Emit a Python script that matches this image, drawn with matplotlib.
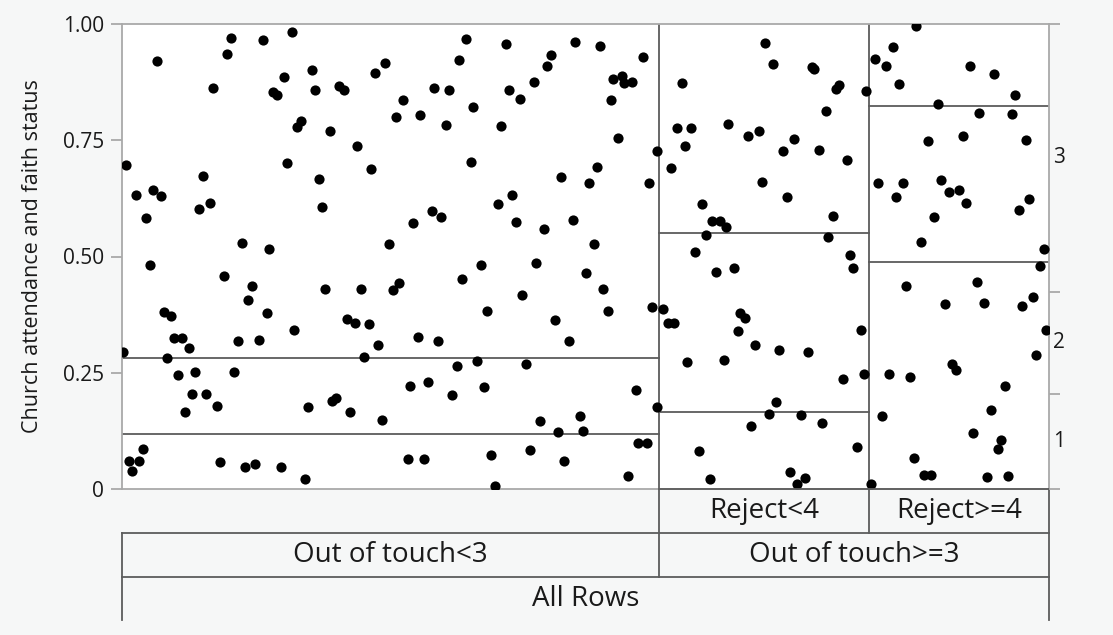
import matplotlib
matplotlib.use('Agg')
import matplotlib.pyplot as plt

plt.rcParams['font.family'] = ['Open Sans', 'DejaVu Sans']

# rows in partition "Out of touch<3": x position (share of rows), response value
x_lt3 = [0.038, 0.118, 0.113, 0.152, 0.183, 0.098, 0.175, 0.163, 0.167, 0.205,
         0.208, 0.234, 0.239, 0.273, 0.284, 0.303, 0.296, 0.322, 0.193, 0.189,
         0.224, 0.254, 0.004, 0.178, 0.269, 0.087, 0.213, 0.015, 0.033, 0.042,
         0.026, 0.083, 0.095, 0.216, 0.314, 0.129, 0.159, 0.288, 0.030, 0.110,
         0.140, 0.136, 0.045, 0.053, 0.156, 0.186, 0.219, 0.258, 0.292, 0.299,
         0.243, 0.251, 0.266, 0.319, 0.056, 0.065, 0.072, 0.125, 0.148, 0.276,
         0.001, 0.049, 0.261, 0.060, 0.079, 0.121, 0.311, 0.330, 0.076, 0.091,
         0.103, 0.068, 0.201, 0.227, 0.231, 0.246, 0.281, 0.023, 0.008, 0.018,
         0.011, 0.106, 0.133, 0.144, 0.171, 0.197, 0.308, 0.326,
         0.371, 0.414, 0.364, 0.489, 0.516, 0.463, 0.459, 0.562, 0.444, 0.530,
         0.539, 0.542, 0.550, 0.337, 0.353, 0.417, 0.429, 0.379, 0.527, 0.349,
         0.409, 0.535, 0.577, 0.376, 0.512, 0.474, 0.504, 0.569, 0.421, 0.406,
         0.334, 0.344, 0.425, 0.455, 0.486, 0.509,
         0.387, 0.447, 0.367, 0.501, 0.519, 0.432, 0.394, 0.524, 0.572, 0.467,
         0.341, 0.482, 0.361, 0.383, 0.436, 0.356, 0.391, 0.554, 0.577, 0.451,
         0.494, 0.470, 0.497, 0.557, 0.566, 0.398, 0.440, 0.477, 0.546, 0.402]
y_lt3 = [0.921, 0.970, 0.936, 0.966, 0.983, 0.863, 0.886, 0.854, 0.848, 0.901,
         0.858, 0.867, 0.858, 0.895, 0.916, 0.837, 0.800, 0.805, 0.792, 0.779,
         0.770, 0.738, 0.697, 0.702, 0.689, 0.674, 0.667, 0.633, 0.644, 0.631,
         0.582, 0.603, 0.614, 0.607, 0.573, 0.530, 0.517, 0.526, 0.481, 0.457,
         0.436, 0.406, 0.380, 0.371, 0.378, 0.341, 0.431, 0.431, 0.429, 0.444,
         0.365, 0.356, 0.354, 0.326, 0.324, 0.324, 0.303, 0.318, 0.320, 0.309,
         0.294, 0.281, 0.283, 0.245, 0.251, 0.251, 0.221, 0.230, 0.204, 0.204,
         0.178, 0.165, 0.176, 0.189, 0.195, 0.165, 0.148, 0.086, 0.060, 0.060,
         0.039, 0.058, 0.047, 0.054, 0.047, 0.021, 0.064, 0.064,
         0.968, 0.957, 0.923, 0.961, 0.953, 0.933, 0.910, 0.929, 0.876, 0.882,
         0.888, 0.873, 0.876, 0.863, 0.858, 0.858, 0.839, 0.822, 0.837, 0.783,
         0.781, 0.755, 0.727, 0.704, 0.693, 0.672, 0.659, 0.657, 0.633, 0.612,
         0.597, 0.584, 0.575, 0.560, 0.579, 0.526,
         0.481, 0.485, 0.451, 0.464, 0.431, 0.418, 0.382, 0.382, 0.391, 0.363,
         0.318, 0.318, 0.264, 0.275, 0.268, 0.202, 0.219, 0.212, 0.176, 0.146,
         0.157, 0.122, 0.124, 0.099, 0.099, 0.073, 0.084, 0.060, 0.028, 0.006]

# rows in "Out of touch>=3" & "Reject<4"
x_rej_lt4 = [0.604, 0.599, 0.614, 0.654, 0.607, 0.592, 0.626, 0.637, 0.645, 0.652,
             0.630, 0.618, 0.641, 0.660, 0.584, 0.589, 0.596, 0.610, 0.649, 0.622,
             0.634, 0.694, 0.702, 0.744, 0.747, 0.773, 0.770, 0.803, 0.759, 0.675,
             0.687, 0.725, 0.713, 0.752, 0.782, 0.690, 0.717, 0.767, 0.762, 0.785,
             0.789, 0.667, 0.672, 0.664, 0.797, 0.683, 0.709, 0.740, 0.778, 0.800,
             0.705, 0.698, 0.732, 0.679, 0.755, 0.793, 0.721, 0.737, 0.728]
y_rej_lt4 = [0.873, 0.777, 0.777, 0.785, 0.738, 0.691, 0.612, 0.577, 0.577, 0.564,
             0.547, 0.509, 0.466, 0.476, 0.388, 0.358, 0.356, 0.273, 0.277, 0.082,
             0.021, 0.959, 0.914, 0.908, 0.903, 0.869, 0.861, 0.856, 0.813, 0.760,
             0.770, 0.753, 0.727, 0.730, 0.708, 0.661, 0.629, 0.588, 0.541, 0.504,
             0.476, 0.378, 0.367, 0.339, 0.341, 0.309, 0.300, 0.294, 0.236, 0.247,
             0.187, 0.161, 0.159, 0.135, 0.142, 0.090, 0.036, 0.024, 0.011]

# rows in "Out of touch>=3" & "Reject>=4"
x_rej_ge4 = [0.857, 0.832, 0.812, 0.824, 0.915, 0.941, 0.838, 0.963, 0.880, 0.925,
             0.960, 0.869, 0.907, 0.975, 0.815, 0.842, 0.835, 0.884, 0.892, 0.903,
             0.910, 0.978, 0.968, 0.876, 0.862, 0.995, 0.990, 0.846, 0.922, 0.888,
             0.930, 0.971, 0.983, 0.997, 0.986, 0.895, 0.900, 0.827, 0.850, 0.952,
             0.937, 0.820, 0.918, 0.948, 0.945, 0.854, 0.865, 0.873, 0.933, 0.956,
             0.808]
y_rej_ge4 = [0.996, 0.951, 0.925, 0.910, 0.910, 0.893, 0.871, 0.848, 0.828, 0.809,
             0.807, 0.749, 0.760, 0.751, 0.657, 0.659, 0.629, 0.665, 0.639, 0.644,
             0.614, 0.624, 0.601, 0.586, 0.532, 0.517, 0.479, 0.436, 0.446, 0.397,
             0.399, 0.393, 0.412, 0.341, 0.288, 0.268, 0.255, 0.247, 0.240, 0.221,
             0.170, 0.157, 0.120, 0.105, 0.086, 0.067, 0.030, 0.030, 0.026, 0.028,
             0.011]

# partition split points (share of rows) and cumulative level proportions
split_touch = 0.579
split_reject = 0.806
cuts_lt3 = [0.118, 0.282]
cuts_rej_lt4 = [0.166, 0.550]
cuts_rej_ge4 = [0.489, 0.824]
cuts_all = [0.204, 0.424]
levels = ['1', '2', '3']

yticks = [0, 0.25, 0.5, 0.75, 1.0]
ytick_labels = ['0', '0.25', '0.50', '0.75', '1.00']

grey = '#a9a9a9'
dark = '#5c5c5c'
txt = '#1a1a1a'

fig = plt.figure(figsize=(11.13, 6.35), dpi=100, facecolor='#f6f7f7')
ax = fig.add_axes([122/1113, 1 - 489/635, 927/1113, 465/635])
ax.set_facecolor('white')
ax.set_xlim(0, 1)
ax.set_ylim(0, 1)

ax.scatter(x_lt3 + x_rej_lt4 + x_rej_ge4, y_lt3 + y_rej_lt4 + y_rej_ge4,
           s=54, c='black', linewidths=0, zorder=3)

# split lines inside the plot
for c in cuts_lt3:
    ax.plot([0, split_touch], [c, c], color=dark, lw=1.3, zorder=2)
for c in cuts_rej_lt4:
    ax.plot([split_touch, split_reject], [c, c], color=dark, lw=1.3, zorder=2)
for c in cuts_rej_ge4:
    ax.plot([split_reject, 1], [c, c], color=dark, lw=1.3, zorder=2)
ax.axvline(split_touch, color=dark, lw=1.3, zorder=2)
ax.axvline(split_reject, color=dark, lw=1.3, zorder=2)

for s in ['left', 'right', 'top', 'bottom']:
    ax.spines[s].set_color(grey)
    ax.spines[s].set_linewidth(1.3)

ax.set_xticks([])
ax.set_yticks(yticks)
ax.set_yticklabels(ytick_labels)
ax.tick_params(axis='y', length=8, width=1.3, color=grey, labelsize=15,
               labelcolor=txt, pad=5)

# right axis: overall level proportions
ax2 = ax.twinx()
ax2.set_ylim(0, 1)
ax2.set_yticks([0] + cuts_all + [1])
ax2.set_yticklabels([])
ax2.tick_params(axis='y', length=8, width=1.3, color=grey)
for s in ['left', 'right', 'top', 'bottom']:
    ax2.spines[s].set_visible(False)
bounds = [0] + cuts_all + [1]
for i, lab in enumerate(levels):
    ax.text(1.004, (bounds[i] + bounds[i + 1]) / 2, lab, transform=ax.transAxes,
            ha='left', va='center', fontsize=15, color=txt)

fig.text(33/1113, 1 - 256/635, 'Church attendance and faith status', rotation=90,
         ha='center', va='center', fontsize=15.5, color=txt)

# partition tree table below the plot
r1, r2, r3 = -44/465, -88/465, -131/465
kw = dict(color=dark, lw=1.3, transform=ax.transAxes, clip_on=False, zorder=4)
ax.plot([split_touch, 1], [0, 0], **kw)
ax.plot([0, 1], [r1, r1], **kw)
ax.plot([0, 1], [r2, r2], **kw)
ax.plot([0, 0], [r1, r3], **kw)
ax.plot([1, 1], [0, r3], **kw)
ax.plot([split_touch, split_touch], [0, r2], **kw)
ax.plot([split_reject, split_reject], [0, r1], **kw)

tk = dict(transform=ax.transAxes, ha='center', va='center', fontsize=20, color=txt)
ax.text((split_touch + split_reject) / 2, r1 / 2, 'Reject<4', **tk)
ax.text((split_reject + 1) / 2, r1 / 2, 'Reject>=4', **tk)
ax.text(split_touch / 2, (r1 + r2) / 2, 'Out of touch<3', **tk)
ax.text((split_touch + 1) / 2, (r1 + r2) / 2, 'Out of touch>=3', **tk)
ax.text(0.5, (r2 + r3) / 2, 'All Rows', **tk)

fig.savefig('out.png', dpi=100, facecolor=fig.get_facecolor())
